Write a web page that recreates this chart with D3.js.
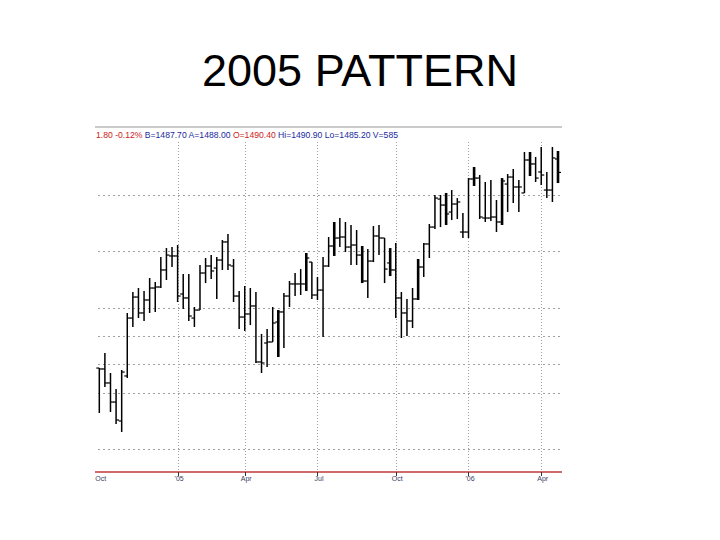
<!DOCTYPE html>
<html><head><meta charset="utf-8">
<script src="https://cdn.jsdelivr.net/npm/d3@7"></script>
<style>body{margin:0;background:#fff}</style>
</head><body>
<svg id="c" width="720" height="540"></svg>
<script>
const title = "2005 PATTERN";
const opens = [1146.7,1145.9,1133.5,1116.6,1099.8,1139.7,1191.0,1209.6,1195.5,1207.0,1217.6,1218.5,1233.6,1246.0,1246.0,1212.3,1208.8,1191.0,1198.1,1230.9,1237.1,1235.3,1242.4,1258.4,1237.1,1210.5,1191.9,1194.6,1201.7,1152.1,1168.9,1169.8,1187.5,1196.4,1210.5,1221.2,1221.2,1221.2,1240.6,1211.4,1215.8,1237.1,1254.8,1261.9,1262.8,1253.9,1255.7,1246.8,1223.8,1241.5,1263.7,1261.9,1239.8,1233.6,1208.8,1195.5,1188.4,1207.9,1236.2,1256.6,1271.6,1296.4,1291.1,1284.9,1292.0,1267.2,1267.2,1314.2,1315.0,1279.6,1279.6,1280.5,1276.1,1309.7,1315.9,1307.1,1301.8,1331.0,1327.5,1320.4,1304.4,1304.4,1331.9];
const highs = [1146.7,1160.0,1142.3,1128.1,1145.0,1195.5,1214.1,1217.6,1215.0,1226.5,1222.9,1245.1,1253.0,1253.9,1255.7,1230.0,1230.0,1200.8,1238.0,1244.2,1246.8,1245.1,1260.1,1265.4,1243.3,1215.0,1219.4,1217.6,1214.1,1176.9,1181.3,1200.8,1198.1,1213.2,1223.8,1230.9,1234.4,1248.6,1240.6,1227.4,1245.1,1262.8,1276.1,1279.6,1276.1,1273.4,1269.0,1254.8,1252.2,1272.5,1273.4,1261.9,1253.0,1257.5,1214.1,1207.9,1217.6,1243.3,1257.5,1274.3,1300.0,1300.0,1301.8,1304.4,1297.3,1284.0,1315.0,1324.8,1317.7,1311.5,1313.3,1295.6,1315.0,1318.6,1323.0,1313.3,1338.1,1338.1,1333.7,1342.5,1320.4,1342.5,1339.0];
const lows = [1106.9,1129.9,1107.8,1097.1,1090.1,1137.9,1183.1,1191.0,1188.4,1195.5,1196.4,1217.6,1224.7,1236.2,1205.2,1199.0,1188.4,1183.1,1198.1,1222.0,1225.6,1207.9,1233.6,1233.6,1205.2,1181.3,1179.5,1184.8,1151.2,1142.3,1147.6,1169.8,1156.5,1164.5,1200.8,1210.5,1211.4,1215.0,1207.9,1207.0,1174.2,1236.2,1246.0,1253.9,1249.5,1238.0,1238.0,1222.0,1208.8,1240.6,1246.8,1222.0,1228.2,1191.0,1173.3,1175.1,1182.2,1207.0,1227.4,1244.2,1269.9,1271.6,1273.4,1277.8,1278.7,1261.9,1261.9,1308.0,1278.7,1276.1,1277.0,1267.2,1273.4,1284.9,1292.9,1284.9,1301.8,1316.8,1311.5,1308.9,1297.3,1293.8,1310.6];
const closes = [1145.9,1133.5,1116.6,1100.7,1143.2,1191.0,1209.6,1195.5,1207.0,1217.6,1218.5,1233.6,1246.8,1246.0,1210.5,1208.8,1192.8,1198.1,1230.9,1237.1,1232.7,1242.4,1258.4,1238.0,1210.5,1191.9,1194.6,1201.7,1152.1,1151.2,1169.8,1186.6,1196.4,1210.5,1221.2,1221.2,1221.2,1244.2,1211.4,1215.8,1237.1,1254.8,1261.9,1262.8,1253.9,1255.7,1246.8,1223.8,1241.5,1263.7,1261.9,1234.4,1233.6,1208.8,1195.5,1188.4,1207.9,1236.2,1256.6,1271.6,1297.3,1291.1,1283.2,1292.0,1293.8,1267.2,1314.2,1315.0,1280.5,1279.6,1280.5,1276.1,1312.4,1315.9,1307.1,1307.1,1331.0,1327.5,1315.0,1317.7,1304.4,1332.8,1320.0];
const monthLabels = ["Oct","'05","Apr","Jul","Oct","'06","Apr"];
const monthIndex = [0,14,26,39,53,66,79];
const gridPrices = [1075,1125,1150,1175,1200,1250,1300];
const headerParts = ["1.80","-0.12%","B=1487.70","A=1488.00","O=1490.40","Hi=1490.90","Lo=1485.20","V=585"];
const headerColors = ["#cc2222","#cc2222","#1a2aa0","#1a2aa0","#cc2222","#1a2aa0","#1a2aa0","#1a2aa0"];

(function () {
const svg = d3.select("#c");
const n = opens.length;
const x = d3.scaleLinear().domain([0, n - 1]).range([99.3, 558]);
const y = d3.scaleLinear().domain([1075, 1300]).range([449, 195]);
const pLeft = 95, pRight = 562, pTop = 127, pBottom = 472;
const font = "Liberation Sans, Arial, sans-serif";

svg.append("text").attr("x", 360).attr("y", 86).attr("text-anchor", "middle")
  .attr("font-family", font).attr("font-size", 45)
  .attr("fill", "#000").text(title);

svg.append("line").attr("x1", pLeft).attr("x2", pRight).attr("y1", pTop).attr("y2", pTop)
  .attr("stroke", "#b8b8b8").attr("stroke-width", 1.5);

const ht = svg.append("text").attr("x", 96).attr("y", 137.5)
  .attr("font-family", font).attr("font-size", 8.5)
  .attr("textLength", 302).attr("lengthAdjust", "spacingAndGlyphs");
headerParts.forEach((p, i) => {
  ht.append("tspan").attr("fill", headerColors[i]).text((i ? "  " : "") + p);
});

svg.append("g").selectAll("line").data(gridPrices).join("line")
  .attr("x1", pLeft + 3).attr("x2", pRight - 2)
  .attr("y1", d => Math.round(y(d)) + 0.5).attr("y2", d => Math.round(y(d)) + 0.5)
  .attr("stroke", "#a0a0a0").attr("stroke-width", 1).attr("stroke-dasharray", "2,3");

const vIdx = monthIndex.filter(i => i > 0);
svg.append("g").selectAll("line").data(vIdx).join("line")
  .attr("x1", d => Math.round(x(d)) + 0.5).attr("x2", d => Math.round(x(d)) + 0.5)
  .attr("y1", 142).attr("y2", pBottom)
  .attr("stroke", "#a0a0a0").attr("stroke-width", 1).attr("stroke-dasharray", "1,2");

svg.append("line").attr("x1", pLeft).attr("x2", pRight).attr("y1", pBottom).attr("y2", pBottom)
  .attr("stroke", "#c03a3a").attr("stroke-width", 1.5);

svg.append("g").selectAll("line").data(vIdx).join("line")
  .attr("x1", d => Math.round(x(d)) + 0.5).attr("x2", d => Math.round(x(d)) + 0.5)
  .attr("y1", pBottom).attr("y2", pBottom + 4).attr("stroke", "#333").attr("stroke-width", 1);

svg.append("g").selectAll("text").data(monthLabels).join("text")
  .attr("x", (d, i) => x(monthIndex[i]) + 1.5).attr("y", 481)
  .attr("text-anchor", "middle").attr("font-family", font)
  .attr("font-size", 7).attr("fill", "#3a4060").text(d => d);

const bars = svg.append("g");
const idx = d3.range(n);
const thick = i => i >= 32 && (i - 32) % 5 === 0;
bars.selectAll("line.hl").data(idx).join("line").attr("class", "hl")
  .attr("x1", i => x(i)).attr("x2", i => x(i))
  .attr("y1", i => y(highs[i])).attr("y2", i => y(lows[i]))
  .attr("stroke", "#000").attr("stroke-width", i => thick(i) ? 2.6 : 1.5);
bars.selectAll("line.op").data(idx).join("line").attr("class", "op")
  .attr("x1", i => x(i) - 3).attr("x2", i => x(i))
  .attr("y1", i => y(opens[i])).attr("y2", i => y(opens[i]))
  .attr("stroke", "#000").attr("stroke-width", 1.2);
bars.selectAll("line.cl").data(idx).join("line").attr("class", "cl")
  .attr("x1", i => x(i)).attr("x2", i => x(i) + 3)
  .attr("y1", i => y(closes[i])).attr("y2", i => y(closes[i]))
  .attr("stroke", "#000").attr("stroke-width", 1.2);
})();
</script>
</body></html>
